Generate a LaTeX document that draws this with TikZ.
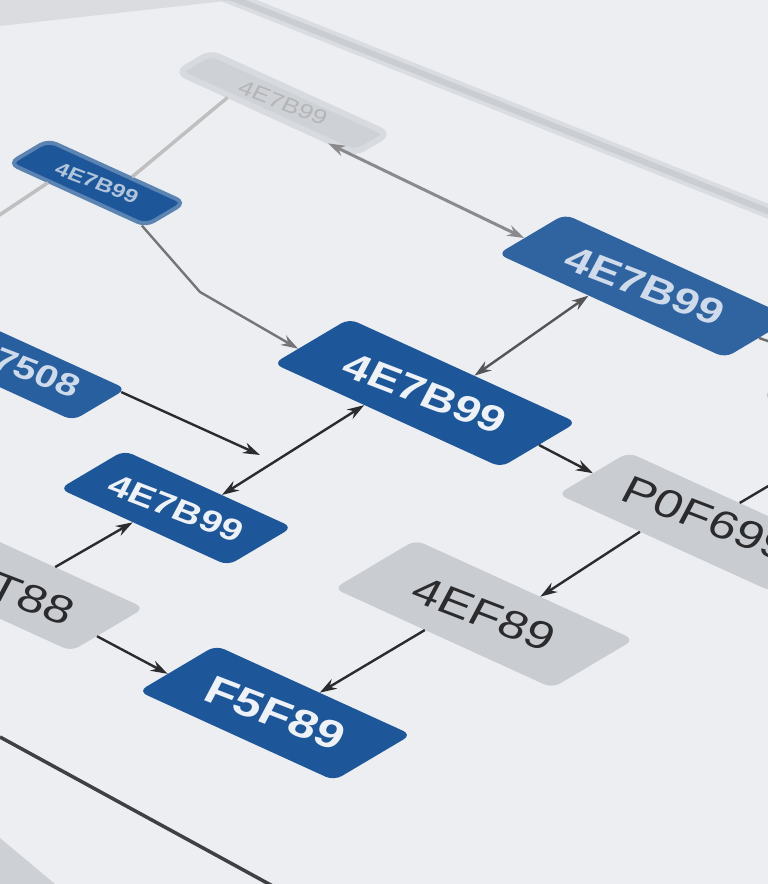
\documentclass[tikz,border=0pt]{standalone}
\usepackage{fontspec}
\setmainfont{Liberation Sans}
\usetikzlibrary{arrows.meta,calc}
\definecolor{paper}{HTML}{EDEEF1}
\definecolor{boxblue}{HTML}{1D5799}
\definecolor{boxgray}{HTML}{C9CCD1}
\definecolor{ink}{HTML}{2B2B2E}
\definecolor{bluetxt}{HTML}{EEF2F8}
\definecolor{bandgray}{HTML}{CDD0D5}
\begin{document}
\begin{tikzpicture}[x=1pt,y=-1pt,
  pbox/.style={rectangle, rounded corners=9pt, inner sep=0pt, cm={0.91,-0.415,0.86,0.51,(0,0)}},
  bluebox/.style={pbox, fill=boxblue},
  graybox/.style={pbox, fill=boxgray},
  ptext/.style={inner sep=0pt, rotate=-21, xslant=0.12, yscale=0.8},
  btext/.style={ptext, text=bluetxt, font=\fontsize{#1pt}{#1pt}\selectfont\bfseries},
  gtext/.style={ptext, text=ink, font=\fontsize{#1pt}{#1pt}\selectfont},
  tip/.style={-{Stealth[length=17pt,width=11pt]}},
  conn/.style={draw=ink, line width=2.4pt, tip},
  dconn/.style={draw=ink, line width=2.4pt, {Stealth[length=17pt,width=11pt]}-{Stealth[length=17pt,width=11pt]}},
  plain/.style={draw=ink, line width=2.4pt},
  faint/.style={draw=gray!50, line width=3.5pt},
]
\useasboundingbox (0,0) rectangle (768,884);
\clip (0,0) rectangle (768,884);
\fill[paper] (0,0) rectangle (768,884);
% paper details
\fill[bandgray!60!paper] (0,0) -- (235,0) -- (0,26) -- cycle;
\draw[bandgray, line width=14pt, opacity=0.6] (225,-5) -- (790,220);
\draw[bandgray!90!black, line width=6pt, opacity=0.45] (225,-5) -- (790,220);
\fill[bandgray] (0,838) -- (55,884) -- (0,884) -- cycle;
\draw[ink!90, line width=3.5pt] (0,737) -- (280,890);

% boxes
\node[graybox, minimum width=195pt, minimum height=38pt, fill=boxgray!85!paper, draw=boxgray!60!paper, line width=6pt] (A) at (283,103) {};
\node[gtext=26, text=ink!35] (At) at (A.center) {4E7B99};
\node[bluebox, minimum width=150pt, minimum height=45pt, draw=boxblue!70!paper, line width=4pt] (B) at (97,183) {};
\node[btext=24, text=boxblue!35!white] (Bt) at (B.center) {4E7B99};
\node[bluebox, minimum width=250pt, minimum height=78pt, fill=boxblue!92!white] (C) at (645,286) {};
\node[btext=46, text=bluetxt!85!boxblue] (Ct) at (C.center) {4E7B99};
\node[bluebox, minimum width=250pt, minimum height=88pt] (D) at (425,393) {};
\node[btext=47] (Dt) at (D.center) {4E7B99};
\node[bluebox, minimum width=230pt, minimum height=62pt, fill=boxblue!95!white] (E) at (-5,357) {};
\node[btext=40, text=bluetxt!85!boxblue] (Et) at (14,364) {4E7508};
\node[bluebox, minimum width=185pt, minimum height=75pt] (F) at (176,508) {};
\node[btext=39] (Ft) at (F.center) {4E7B99};
\node[graybox, minimum width=235pt, minimum height=82pt] (G) at (700,522) {};
\node[gtext=50] (Gt) at (707,519) {P0F699};
\node[graybox, minimum width=240pt, minimum height=95pt] (H) at (484,614) {};
\node[gtext=50] (Ht) at (H.center) {4EF89};
\node[graybox, minimum width=215pt, minimum height=85pt] (I) at (10,585) {};
\node[gtext=50] (It) at (3,588) {4ET88};
\node[bluebox, minimum width=215pt, minimum height=90pt] (J) at (275,713) {};
\node[btext=50] (Jt) at (J.center) {F5F89};
\node[graybox, minimum width=230pt, minimum height=80pt] (K) at (901,423) {};

% free ends
\coordinate (Bleft) at (-5,218);
\coordinate (bend) at (200,292);
\coordinate (Eend) at (260,455);
\coordinate (Gup) at (792,472);
\coordinate (Cright) at (800,352);

% connectors
\draw[faint] ($(B.north west)!0.6!(B.north east)$) -- ($(A.south west)!0.3!(A.south east)$);
\draw[faint] ($(B.south west)!0.3!(B.south east)$) -- (Bleft);
\draw[conn, draw=ink!65] ($(B.south west)!0.97!(B.south east)$) -- (bend) -- ($(D.north west)!0.67!(D.south west)$);
\draw[dconn, draw=ink!55, line width=3pt] ($(A.south west)!0.85!(A.south east)$) -- ($(C.north west)!0.6!(C.south west)$);
\draw[dconn, draw=ink!80] ($(D.north west)!0.55!(D.north east)$) -- ($(C.south west)!0.4!(C.south east)$);
\draw[plain, draw=ink!70] (C.east) -- (Cright);
\draw[dconn] ($(D.south west)!0.4!(D.south east)$) -- ($(F.north west)!0.58!(F.north east)$);
\draw[conn] ($(E.north east)!0.1!(E.south east)$) -- (Eend);
\draw[conn] (D.east) -- (G.west);
\draw[conn] ($(G.south west)!0.385!(G.south east)$) -- ($(H.north west)!0.57!(H.north east)$);
\draw[plain] ($(G.north west)!0.52!(G.north east)$) -- (Gup);
\draw[conn] ($(H.south west)!0.417!(H.south east)$) -- ($(J.north west)!0.53!(J.north east)$);
\draw[conn] ($(I.north west)!0.543!(I.north east)$) -- ($(F.south west)!0.436!(F.south east)$);
\draw[conn] ($(I.north east)!0.65!(I.south east)$) -- ($(J.north west)!0.62!(J.south west)$);
\end{tikzpicture}
\end{document}
